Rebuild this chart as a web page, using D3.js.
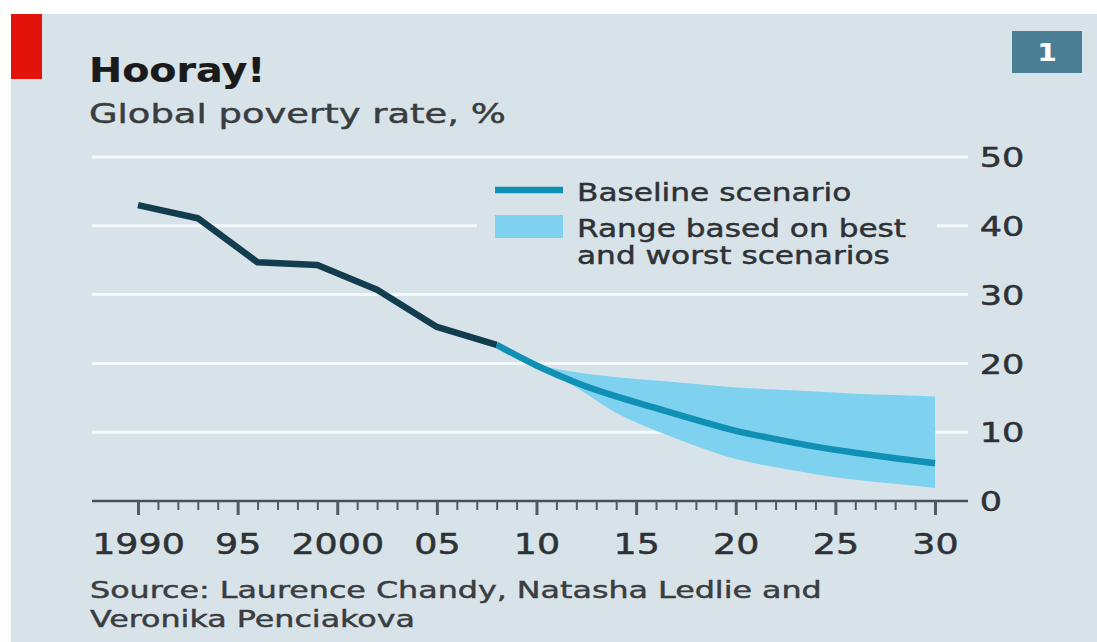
<!DOCTYPE html>
<html>
<head>
<meta charset="utf-8">
<script src="https://cdn.jsdelivr.net/npm/d3@7"></script>
<style>
  html, body { margin: 0; padding: 0; background: #ffffff; }
  svg { display: block; }
</style>
</head>
<body>
<svg id="chart" width="1097" height="642"></svg>
<script>
// Global poverty rate, %: actual estimates and projections
const historyYears = [1990, 1993, 1996, 1999, 2002, 2005, 2008];
const historyRate  = [43.0, 41.1, 34.7, 34.3, 30.7, 25.3, 22.7];

const projYears    = [2008, 2010, 2012, 2014, 2016, 2018, 2020, 2022, 2024, 2026, 2028, 2030];
const baselineRate = [22.7, 19.7, 17.2, 15.2, 13.5, 11.8, 10.2, 9.0, 7.9, 7.0, 6.2, 5.5];

const rangeYears = [2010, 2011, 2012, 2014, 2016, 2018, 2020, 2022, 2024, 2026, 2028, 2030];
const rangeHigh  = [19.7, 19.2, 18.7, 18.0, 17.5, 17.0, 16.5, 16.2, 15.9, 15.6, 15.4, 15.2];
const rangeLow   = [19.7, 18.2, 16.5, 12.8, 10.2, 8.0, 6.1, 4.9, 3.9, 3.1, 2.5, 1.9];

const yTickValues = [0, 10, 20, 30, 40, 50];
const xLabelYears = [1990, 1995, 2000, 2005, 2010, 2015, 2020, 2025, 2030];
const xLabelText  = ["1990", "95", "2000", "05", "10", "15", "20", "25", "30"];

const legendLabels = ["Baseline scenario", "Range based on best", "and worst scenarios"];

const FONT = "'DejaVu Sans', Verdana, sans-serif";
const SX = 1.3;               // horizontal widening applied to the lettering
const BG = "#d8e2e9";
const INK = "#2e3236";
const DARK_LINE = "#123d4e";
const BLUE_LINE = "#1190b6";
const BAND = "#7fd2ef";

const svg = d3.select("#chart");

const x = d3.scaleLinear().domain([1990, 2030]).range([138, 935]);
const y = d3.scaleLinear().domain([0, 50]).range([501, 157]);

// Text helper: positioned through a transform so it can be widened
function label(g, px, py, str, size, opts = {}) {
  const fill = opts.fill || INK;
  return g.append("text")
    .attr("transform", `translate(${px},${py}) scale(${opts.sx || SX},1)`)
    .attr("font-family", FONT)
    .attr("font-size", size)
    .attr("font-weight", opts.weight || "normal")
    .attr("fill", fill)
    .attr("stroke", fill)
    .attr("stroke-width", opts.weight === "bold" ? 0.2 : 0.45)
    .attr("text-anchor", opts.anchor || "start")
    .text(str);
}

// Panel background and red tag
svg.append("rect").attr("x", 11).attr("y", 14).attr("width", 1086).attr("height", 628).attr("fill", BG);
svg.append("rect").attr("x", 11).attr("y", 14).attr("width", 31).attr("height", 65).attr("fill", "#e3120b");

// Chart number box
svg.append("rect").attr("x", 1012).attr("y", 31).attr("width", 70).attr("height", 42).attr("fill", "#4a7e94");
label(svg, 1047, 61, "1", 24, { weight: "bold", fill: "#ffffff", anchor: "middle", sx: 1.15 });

// Titles
label(svg, 89, 82, "Hooray!", 33, { weight: "bold", fill: "#1a1a1a", sx: 1.2 });
label(svg, 89, 123, "Global poverty rate, %", 26, { fill: "#3a3d40", sx: 1.42 });

// Horizontal gridlines
const grid = svg.append("g");
grid.selectAll("line")
  .data(yTickValues.filter(v => v > 0))
  .join("line")
  .attr("x1", 92).attr("x2", 968)
  .attr("y1", d => y(d)).attr("y2", d => y(d))
  .attr("stroke", "#f4f9fc").attr("stroke-width", 3);

// Legend backdrop interrupts the 40 gridline
svg.append("rect").attr("x", 477).attr("y", 178).attr("width", 460).attr("height", 95).attr("fill", BG);

// Range band
const area = d3.area()
  .x((d, i) => x(rangeYears[i]))
  .y0((d, i) => y(rangeLow[i]))
  .y1((d, i) => y(rangeHigh[i]))
  .curve(d3.curveMonotoneX);
svg.append("path").datum(rangeYears).attr("d", area).attr("fill", BAND);

// Baseline projection
const projLine = d3.line()
  .x((d, i) => x(projYears[i]))
  .y((d, i) => y(baselineRate[i]))
  .curve(d3.curveMonotoneX);
svg.append("path").datum(projYears).attr("d", projLine)
  .attr("fill", "none").attr("stroke", BLUE_LINE).attr("stroke-width", 6.5)
  .attr("stroke-linejoin", "round");

// Historical estimates
const histLine = d3.line()
  .x((d, i) => x(historyYears[i]))
  .y((d, i) => y(historyRate[i]));
svg.append("path").datum(historyYears).attr("d", histLine)
  .attr("fill", "none").attr("stroke", DARK_LINE).attr("stroke-width", 6.5)
  .attr("stroke-linejoin", "round");

// X axis: baseline, yearly ticks and five-year labels
const xAxisG = svg.append("g").attr("transform", `translate(0,${y(0)})`);
xAxisG.append("line").attr("x1", 92).attr("x2", 968).attr("y1", 0).attr("y2", 0)
  .attr("stroke", "#4a4f54").attr("stroke-width", 2.5);
const minorYears = d3.range(1990, 2031).filter(yr => yr % 5 !== 0);
xAxisG.append("g")
  .call(d3.axisBottom(x).tickValues(minorYears).tickSize(9).tickFormat(""))
  .call(g => g.select(".domain").remove())
  .call(g => g.selectAll("line").attr("stroke", "#555a5f").attr("stroke-width", 2));
xAxisG.append("g")
  .call(d3.axisBottom(x).tickValues(xLabelYears).tickSize(14)
    .tickFormat((d, i) => xLabelText[i]))
  .call(g => g.select(".domain").remove())
  .call(g => g.selectAll("line").attr("stroke", "#555a5f").attr("stroke-width", 3))
  .call(g => g.selectAll("text")
    .attr("y", 53).attr("dy", null)
    .attr("transform", `scale(${SX},1)`)
    .attr("font-family", FONT).attr("font-size", 28)
    .attr("fill", INK).attr("stroke", INK).attr("stroke-width", 0.5));

// Y axis labels on the right
svg.append("g")
  .attr("transform", "translate(968,0)")
  .call(d3.axisRight(y).tickValues(yTickValues).tickSize(0).tickPadding(9))
  .call(g => g.select(".domain").remove())
  .call(g => g.selectAll("text")
    .attr("transform", `scale(${SX},1)`)
    .attr("dy", "0.36em")
    .attr("font-family", FONT).attr("font-size", 27)
    .attr("fill", INK).attr("stroke", INK).attr("stroke-width", 0.5));

// Legend
const leg = svg.append("g");
leg.append("line").attr("x1", 495).attr("x2", 563).attr("y1", 190).attr("y2", 190)
  .attr("stroke", BLUE_LINE).attr("stroke-width", 6.5);
leg.append("rect").attr("x", 495).attr("y", 215).attr("width", 68).attr("height", 23).attr("fill", BAND);
label(leg, 577, 201, legendLabels[0], 24);
label(leg, 577, 237, legendLabels[1], 24);
label(leg, 577, 264, legendLabels[2], 24);

// Source note
label(svg, 90, 598, "Source: Laurence Chandy, Natasha Ledlie and", 23, { fill: "#3a3d40", sx: 1.38 });
label(svg, 90, 627, "Veronika Penciakova", 23, { fill: "#3a3d40", sx: 1.38 });
</script>
</body>
</html>
